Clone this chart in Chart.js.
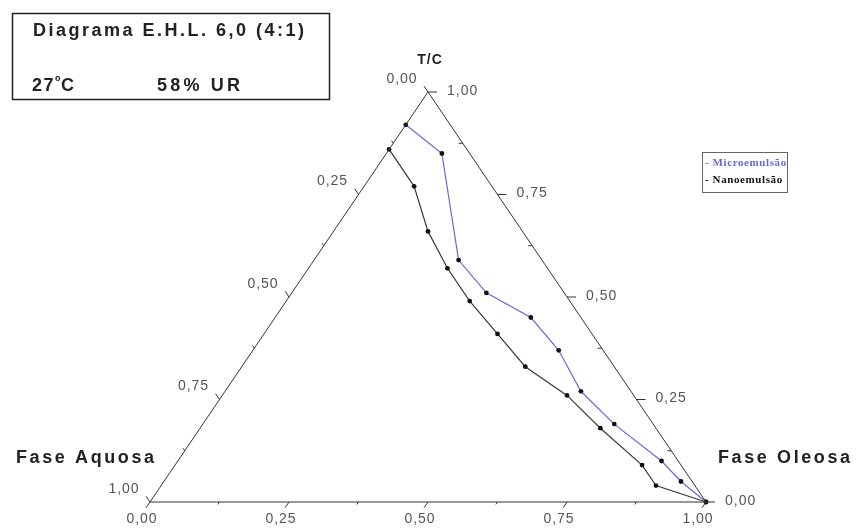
<!DOCTYPE html>
<html>
<head>
<meta charset="utf-8">
<script src="https://cdn.jsdelivr.net/npm/chart.js@4/dist/chart.umd.min.js"></script>
<style>
  html, body { margin: 0; padding: 0; background: #fff; }
  #wrap { position: relative; width: 857px; height: 528px; }
</style>
</head>
<body>
<div id="wrap"><canvas id="diagrama"></canvas></div>
<script>
var microTC   = [0.92, 0.85, 0.59, 0.51, 0.45, 0.37, 0.27, 0.19, 0.10, 0.05, 0.00];
var microOleo = [0.00, 0.10, 0.26, 0.35, 0.46, 0.55, 0.64, 0.74, 0.87, 0.93, 1.00];
var microAquo = [0.08, 0.05, 0.15, 0.14, 0.09, 0.08, 0.09, 0.07, 0.03, 0.02, 0.00];

var nanoTC   = [0.86, 0.77, 0.66, 0.57, 0.49, 0.41, 0.33, 0.26, 0.18, 0.09, 0.04, 0.00];
var nanoOleo = [0.00, 0.09, 0.17, 0.25, 0.33, 0.42, 0.51, 0.62, 0.72, 0.84, 0.89, 1.00];
var nanoAquo = [0.14, 0.14, 0.17, 0.18, 0.18, 0.17, 0.16, 0.12, 0.10, 0.07, 0.07, 0.00];

// vértices do triângulo: Aquosa, Oleosa, T/C (fechado)
var vertTC   = [0, 0, 1, 0];
var vertOleo = [0, 1, 0, 0];

var tickVals   = [0, 0.25, 0.5, 0.75, 1];
var tickLabels = ['0,00', '0,25', '0,50', '0,75', '1,00'];
var minorVals  = [0.125, 0.375, 0.625, 0.875];

var serieNomes = ['Microemulsão', 'Nanoemulsão'];

// ternário -> cartesiano (x = oleosa + tc/2, y = tc)
function xy(tc, oleo) {
    return tc.map(function (t, i) { return { x: oleo[i] + t / 2, y: t }; });
}

var triPlugin = {
    id: 'ternario',
    afterDraw: function (chart) {
        var ctx = chart.ctx, sx = chart.scales.x, sy = chart.scales.y;
        function P(tc, oleo) { return { x: sx.getPixelForValue(oleo + tc / 2), y: sy.getPixelForValue(tc) }; }
        var A = P(0, 0), O = P(0, 1), T = P(1, 0);
        function unit(a, b) { var dx = b.x - a.x, dy = b.y - a.y, l = Math.hypot(dx, dy); return { x: dx / l, y: dy / l }; }
        var dBottom = unit(T, A);   // paralelo ao lado esquerdo, para baixo
        var dLeft = unit(O, T);     // paralelo ao lado direito, para cima
        var dRight = { x: 1, y: 0 };

        ctx.save();
        ctx.strokeStyle = '#333';
        ctx.lineWidth = 1;
        function tick(p, d, len) {
            ctx.beginPath();
            ctx.moveTo(p.x, p.y);
            ctx.lineTo(p.x + d.x * len, p.y + d.y * len);
            ctx.stroke();
        }
        tickVals.forEach(function (v) {
            tick(P(0, v), dBottom, 7);
            tick(P(v, 1 - v), dRight, 9);
            tick(P(1 - v, 0), dLeft, 7);
        });
        minorVals.forEach(function (v) {
            tick(P(0, v), dBottom, 3);
            tick(P(v, 1 - v), { x: -1, y: 0 }, 4);
            tick(P(1 - v, 0), dLeft, 3);
        });

        ctx.fillStyle = '#555';
        ctx.font = '14px "Liberation Sans", Arial, sans-serif';
        ctx.letterSpacing = '1px';
        ctx.textBaseline = 'middle';
        tickVals.forEach(function (v, i) {
            var b = P(0, v);
            ctx.textAlign = 'center';
            ctx.fillText(tickLabels[i], b.x - 8, b.y + 17);
            var r = P(v, 1 - v);
            ctx.textAlign = 'left';
            ctx.fillText(tickLabels[i], r.x + 19, r.y - 1);
            var l = P(1 - v, 0);
            ctx.textAlign = 'center';
            ctx.fillText(tickLabels[i], l.x - 26, l.y - 13);
        });

        // títulos dos vértices
        ctx.fillStyle = '#222';
        ctx.font = 'bold 14px "Liberation Sans", Arial, sans-serif';
        ctx.letterSpacing = '1px';
        ctx.textAlign = 'center';
        ctx.fillText('T/C', T.x + 2, T.y - 32);
        ctx.font = 'bold 18px "Liberation Sans", Arial, sans-serif';
        ctx.letterSpacing = '2.6px';
        ctx.textAlign = 'left';
        ctx.fillText('Fase Aquosa', 16, 458);
        ctx.fillText('Fase Oleosa', 718, 458);

        // caixa do título
        ctx.letterSpacing = '0px';
        ctx.lineWidth = 1.5;
        ctx.strokeStyle = '#222';
        ctx.strokeRect(12.5, 13.5, 317, 86);
        ctx.fillStyle = '#222';
        ctx.font = 'bold 18px "Liberation Sans", Arial, sans-serif';
        ctx.letterSpacing = '2.5px';
        ctx.fillText('Diagrama E.H.L. 6,0 (4:1)', 33, 31);
        ctx.letterSpacing = '1.5px';
        ctx.fillText('27', 32, 86);
        ctx.font = 'bold 9px "Liberation Sans", Arial, sans-serif';
        ctx.letterSpacing = '0px';
        ctx.fillText('o', 55, 79);
        ctx.font = 'bold 18px "Liberation Sans", Arial, sans-serif';
        ctx.fillText('C', 61, 86);
        ctx.letterSpacing = '3.2px';
        ctx.fillText('58% UR', 157, 86);

        // legenda
        ctx.letterSpacing = '0px';
        ctx.lineWidth = 1;
        ctx.strokeStyle = '#666';
        ctx.strokeRect(702.5, 152.5, 85, 40);
        ctx.font = 'bold 11px "Liberation Serif", "Times New Roman", serif';
        ctx.letterSpacing = '0.6px';
        ctx.fillStyle = chart.data.datasets[1].borderColor;
        ctx.fillText('- ' + serieNomes[0], 705, 163);
        ctx.fillStyle = '#111';
        ctx.fillText('- ' + serieNomes[1], 705, 180);
        ctx.restore();
    }
};

new Chart(document.getElementById('diagrama'), {
    type: 'scatter',
    data: {
        datasets: [{
            label: 'triângulo',
            data: xy(vertTC, vertOleo),
            showLine: true,
            borderColor: '#333',
            borderWidth: 1,
            pointRadius: 0,
            clip: false
        }, {
            label: serieNomes[0],
            data: xy(microTC, microOleo),
            showLine: true,
            borderColor: '#6868dc',
            borderWidth: 1.2,
            pointRadius: 2.4,
            pointBackgroundColor: '#111',
            pointBorderColor: '#111',
            pointBorderWidth: 0,
            clip: false
        }, {
            label: serieNomes[1],
            data: xy(nanoTC, nanoOleo),
            showLine: true,
            borderColor: '#3a3a3a',
            borderWidth: 1.2,
            pointRadius: 2.4,
            pointBackgroundColor: '#111',
            pointBorderColor: '#111',
            pointBorderWidth: 0,
            clip: false
        }]
    },
    options: {
        responsive: true,
        maintainAspectRatio: false,
        animation: false,
        layout: { padding: { left: 150, right: 151, top: 92, bottom: 26 } },
        scales: {
            x: { type: 'linear', min: 0, max: 1, display: false },
            y: { type: 'linear', min: 0, max: 1, display: false }
        },
        plugins: { legend: { display: false }, tooltip: { enabled: false } }
    },
    plugins: [triPlugin]
});
</script>
</body>
</html>
